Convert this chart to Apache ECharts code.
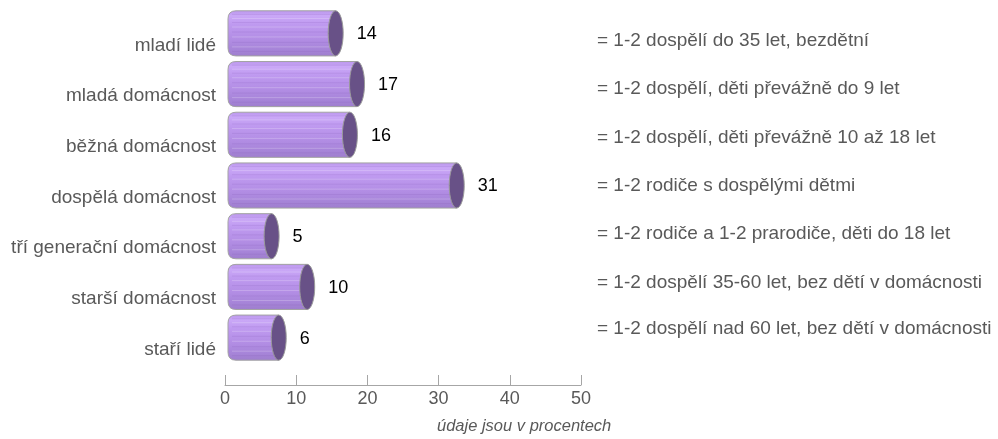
<!DOCTYPE html>
<html>
<head>
<meta charset="utf-8">
<script src="https://cdn.jsdelivr.net/npm/echarts@6/dist/echarts.min.js"></script>
<style>
html,body{margin:0;padding:0;background:#fff;}
#c{width:998px;height:439px;}
</style>
</head>
<body>
<div id="c"></div>
<script>
const categories = ['mladí lidé','mladá domácnost','běžná domácnost','dospělá domácnost','tří generační domácnost','starší domácnost','staří lidé'];
const values = [14, 17, 16, 31, 5, 10, 6];
const descriptions = [
  '= 1-2 dospělí do 35 let, bezdětní',
  '= 1-2 dospělí, děti převážně do 9 let',
  '= 1-2 dospělí, děti převážně 10 až 18 let',
  '= 1-2 rodiče s dospělými dětmi',
  '= 1-2 rodiče a 1-2 prarodiče, děti do 18 let',
  '= 1-2 dospělí 35-60 let, bez dětí v domácnosti',
  '= 1-2 dospělí nad 60 let, bez dětí v domácnosti'
];
const xTicks = [0, 10, 20, 30, 40, 50];
const axisNote = 'údaje jsou v procentech';

const FONT = '"Liberation Sans", Arial, sans-serif';
const chart = echarts.init(document.getElementById('c'));

const DX = 11, DY = -12;
const descY = [42, 90, 139, 187, 235, 284, 330];

function renderItem(params, api) {
  const v = api.value(0), idx = api.value(1);
  const p0 = api.coord([0, idx]);
  const p1 = api.coord([v, idx]);
  const band = api.size([0, 1])[1];
  const h = band * 0.89;
  const cy = p0[1] + DY;
  const top = cy - h / 2, bot = cy + h / 2;
  const lx = p0[0] + 3;
  const rxC = p1[0] + DX;
  const erx = 7.5;
  const r = 8;
  const body = {
    type: 'path',
    shape: {
      pathData: `M${lx + r},${top} L${rxC},${top} L${rxC},${bot} L${lx + r},${bot} Q${lx},${bot} ${lx},${bot - r} L${lx},${top + r} Q${lx},${top} ${lx + r},${top} Z`
    },
    style: {
      fill: new echarts.graphic.LinearGradient(0, 0, 0, 1, [
        {offset: 0, color: '#ba95ec'},
        {offset: 0.12, color: '#caa8f7'},
        {offset: 0.3, color: '#bf9af0'},
        {offset: 0.6, color: '#b38ee5'},
        {offset: 0.85, color: '#a684d8'},
        {offset: 1, color: '#9e7ecd'}
      ]),
      stroke: '#a3a3a3',
      lineWidth: 1
    }
  };
  const children = [body];
  const stripes = [0.08, 0.17, 0.26, 0.36, 0.47, 0.58, 0.7, 0.8, 0.9];
  stripes.forEach((s, k) => {
    const y = top + h * s;
    children.push({
      type: 'line',
      shape: {x1: lx + 4, y1: y, x2: rxC, y2: y},
      style: {stroke: k % 2 ? 'rgba(255,255,255,0.22)' : 'rgba(120,80,170,0.14)', lineWidth: 1}
    });
  });
  children.push({
    type: 'ellipse',
    shape: {cx: rxC, cy: cy, rx: erx, ry: h / 2},
    style: {fill: '#685187', stroke: '#9a9a9a', lineWidth: 1}
  });
  children.push({
    type: 'text',
    style: {
      text: String(v),
      x: p1[0] + 32,
      y: cy + 1,
      fill: '#000',
      font: '18px ' + FONT,
      verticalAlign: 'middle',
      align: 'left'
    }
  });
  return {type: 'group', children: children};
}

const graphics = descriptions.map((t, i) => ({
  type: 'text',
  left: 597,
  top: descY[i] - 11,
  style: {text: t, fill: '#595959', font: '19px ' + FONT}
}));
graphics.push({
  type: 'text',
  left: 437,
  top: 418,
  style: {text: axisNote, fill: '#595959', font: 'italic 16.5px ' + FONT}
});

chart.setOption({
  animation: false,
  backgroundColor: '#fff',
  grid: {left: 225, right: 417, top: 20, bottom: 64, containLabel: false},
  xAxis: {
    type: 'value',
    min: xTicks[0],
    max: xTicks[xTicks.length - 1],
    interval: 10,
    offset: 10,
    axisLine: {show: true, lineStyle: {color: '#a6a6a6', width: 1}},
    axisTick: {show: true, inside: true, length: 10, lineStyle: {color: '#a6a6a6'}},
    axisLabel: {color: '#595959', fontSize: 18, fontFamily: FONT, margin: 5},
    splitLine: {show: false}
  },
  yAxis: {
    type: 'category',
    inverse: true,
    data: categories,
    axisLine: {show: false},
    axisTick: {show: false},
    axisLabel: {color: '#595959', fontSize: 19, fontFamily: FONT, margin: 9}
  },
  series: [{
    type: 'custom',
    renderItem: renderItem,
    encode: {x: 0, y: 1},
    data: values.map((v, i) => [v, i])
  }],
  graphic: graphics
});
</script>
</body>
</html>
